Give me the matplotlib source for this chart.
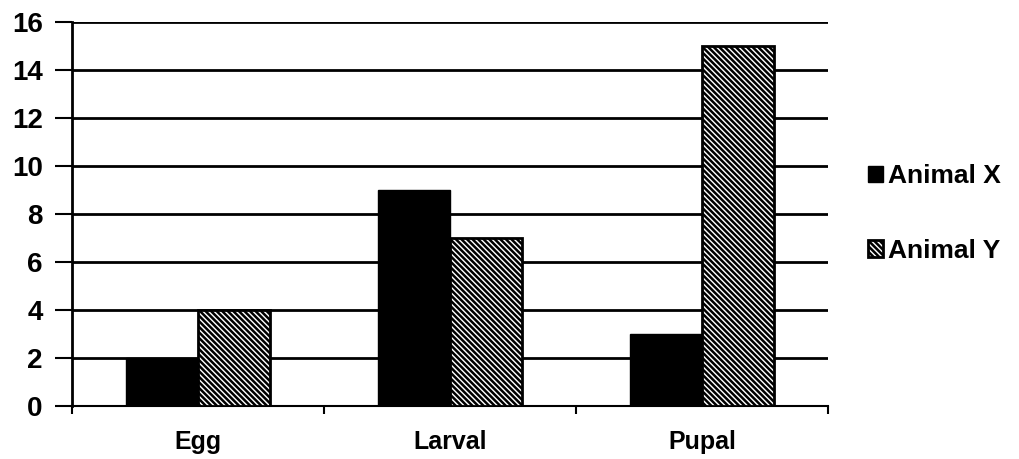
import matplotlib.pyplot as plt
import numpy as np

plt.rcParams['font.family'] = ['Liberation Sans', 'DejaVu Sans']
plt.rcParams['hatch.linewidth'] = 1.8

stages = ['Egg', 'Larval', 'Pupal']
animal_x = [2, 9, 3]
animal_y = [4, 7, 15]
y_ticks = [0, 2, 4, 6, 8, 10, 12, 14, 16]

fig = plt.figure(figsize=(10.2, 4.59), dpi=100)
ax = fig.add_axes([0.0706, 0.115, 0.741, 0.838])

x = np.arange(len(stages))
w = 0.285
ax.bar(x - w / 2, animal_x, w, color='black', edgecolor='black', label='Animal X', zorder=3)
ax.bar(x + w / 2, animal_y, w, color='white', edgecolor='black', hatch='\\\\\\\\\\\\',
       linewidth=2, label='Animal Y', zorder=3)

ax.set_xlim(-0.5, 2.5)
ax.set_ylim(0, 16)
ax.set_yticks(y_ticks)
ax.set_xticks(x)
ax.set_xticklabels(stages)
ax.set_xticks([-0.5, 0.5, 1.5, 2.5], minor=True)
ax.tick_params(axis='x', which='major', length=0, pad=17)
ax.tick_params(axis='x', which='minor', length=6, width=1.5, direction='out')
ax.tick_params(axis='y', length=12, width=1.5, pad=9)
for lab in ax.get_xticklabels():
    lab.set_fontsize(18)
    lab.set_fontweight('bold')
for lab in ax.get_yticklabels():
    lab.set_fontsize(20)
    lab.set_fontweight('bold')

ax.yaxis.grid(True, color='black', linewidth=2, zorder=0)
ax.set_axisbelow(True)
for s in ['top', 'right']:
    ax.spines[s].set_visible(False)
ax.spines['left'].set_linewidth(2)
ax.spines['bottom'].set_linewidth(1.5)

leg = fig.legend(loc='center left', bbox_to_anchor=(0.828, 0.535), frameon=False,
                 prop={'size': 19, 'weight': 'bold'}, handlelength=0.55, handleheight=0.6,
                 handletextpad=0.2, labelspacing=1.9)

fig.savefig('out.png', dpi=100)
